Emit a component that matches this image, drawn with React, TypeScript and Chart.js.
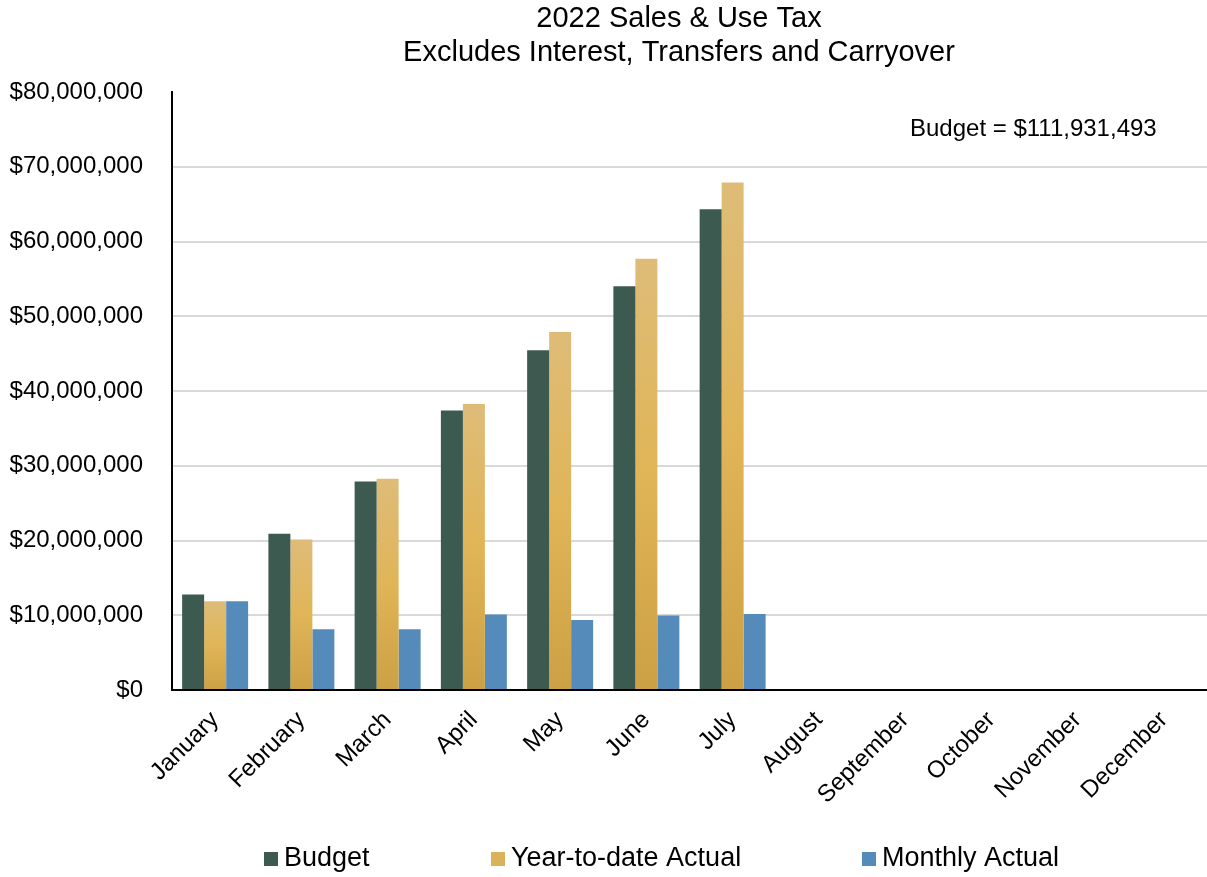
import React, { useEffect, useRef } from "react";
import { Chart, registerables } from "chart.js";

Chart.register(...registerables);

const months = [
  "January", "February", "March", "April", "May", "June",
  "July", "August", "September", "October", "November", "December",
];
const budget = [12760000, 20900000, 27900000, 37400000, 45450000, 54000000, 64300000, null, null, null, null, null];
const ytdActual = [11870000, 20130000, 28270000, 38270000, 47900000, 57700000, 67900000, null, null, null, null, null];
const monthlyActual = [11870000, 8130000, 8130000, 10100000, 9380000, 9980000, 10170000, null, null, null, null, null];
const titleLines = ["2022 Sales & Use Tax", "Excludes Interest, Transfers and Carryover"];
const annotationText = "Budget = $111,931,493";
const seriesNames = ["Budget", "Year-to-date Actual", "Monthly Actual"];

const FONT = "'Liberation Sans', Arial, sans-serif";
const BUDGET_COLOR = "#3C5A50";
const MONTHLY_COLOR = "#558BBA";

function ytdGradient(ctx: any) {
  const chart = ctx.chart;
  const area = chart.chartArea;
  if (!area || ctx.dataIndex === undefined) return "#DEB45A";
  const v = ctx.raw;
  if (v == null) return "#DEB45A";
  const ys = chart.scales.y;
  const top = ys.getPixelForValue(v);
  const base = ys.getPixelForValue(0);
  const g = chart.ctx.createLinearGradient(0, top, 0, base);
  g.addColorStop(0, "#DEBC78");
  g.addColorStop(0.5, "#E0B557");
  g.addColorStop(1, "#CCA044");
  return g;
}

const decorations = {
  id: "decorations",
  afterDraw(chart: any) {
    const c = chart.ctx;
    c.save();
    c.fillStyle = "#000";
    c.textBaseline = "middle";
    // title
    c.font = `29px ${FONT}`;
    c.textAlign = "center";
    c.fillText(titleLines[0], 679, 19);
    c.fillText(titleLines[1], 679, 53);
    // annotation
    c.font = `24px ${FONT}`;
    c.textAlign = "left";
    c.fillText(annotationText, 910, 129);
    // legend
    const items = [
      { x: 264, color: BUDGET_COLOR },
      { x: 491, color: "#DAB25C" },
      { x: 862, color: MONTHLY_COLOR },
    ];
    c.font = `27px ${FONT}`;
    items.forEach((it, i) => {
      c.fillStyle = it.color;
      c.fillRect(it.x, 852, 14, 14);
      c.fillStyle = "#000";
      c.fillText(seriesNames[i], it.x + 20, 859);
    });
    c.restore();
  },
};

export default function App() {
  const ref = useRef<HTMLCanvasElement | null>(null);
  useEffect(() => {
    if (!ref.current) return;
    const chart = new Chart(ref.current, {
      type: "bar",
      data: {
        labels: months,
        datasets: [
          { label: seriesNames[0], data: budget, backgroundColor: BUDGET_COLOR },
          { label: seriesNames[1], data: ytdActual, backgroundColor: ytdGradient as any },
          { label: seriesNames[2], data: monthlyActual, backgroundColor: MONTHLY_COLOR },
        ],
      },
      options: {
        animation: false,
        responsive: false,
        maintainAspectRatio: false,
        layout: { padding: { top: 92, right: 0, bottom: 0, left: 0 } },
        datasets: { bar: { categoryPercentage: 0.765, barPercentage: 1 } },
        plugins: {
          legend: { display: false },
          title: { display: false },
          tooltip: { enabled: false },
        },
        scales: {
          x: {
            grid: { display: false },
            border: { display: true, color: "#000", width: 2 },
            ticks: {
              color: "#000",
              font: { family: FONT, size: 24 },
              minRotation: 45,
              maxRotation: 45,
              autoSkip: false,
              padding: 8,
            },
            afterFit: (s: any) => { s.height = 187; },
          },
          y: {
            min: 0,
            max: 80000000,
            border: { display: true, color: "#000", width: 2 },
            grid: {
              drawTicks: false,
              lineWidth: 2,
              color: (ctx: any) => (ctx.tick && ctx.tick.value === 80000000 ? "rgba(0,0,0,0)" : "#D9D9D9"),
            },
            ticks: {
              stepSize: 10000000,
              color: "#000",
              font: { family: FONT, size: 24 },
              padding: 29,
              callback: (v: any) => "$" + Number(v).toLocaleString("en-US"),
            },
            afterFit: (s: any) => { s.width = 172; },
          },
        },
      },
      plugins: [decorations],
    });
    return () => chart.destroy();
  }, []);
  return (
    <canvas
      ref={ref}
      width={1207}
      height={877}
      style={{ position: "fixed", left: 0, top: 0, width: 1207, height: 877, display: "block", background: "#fff" }}
    />
  );
}
